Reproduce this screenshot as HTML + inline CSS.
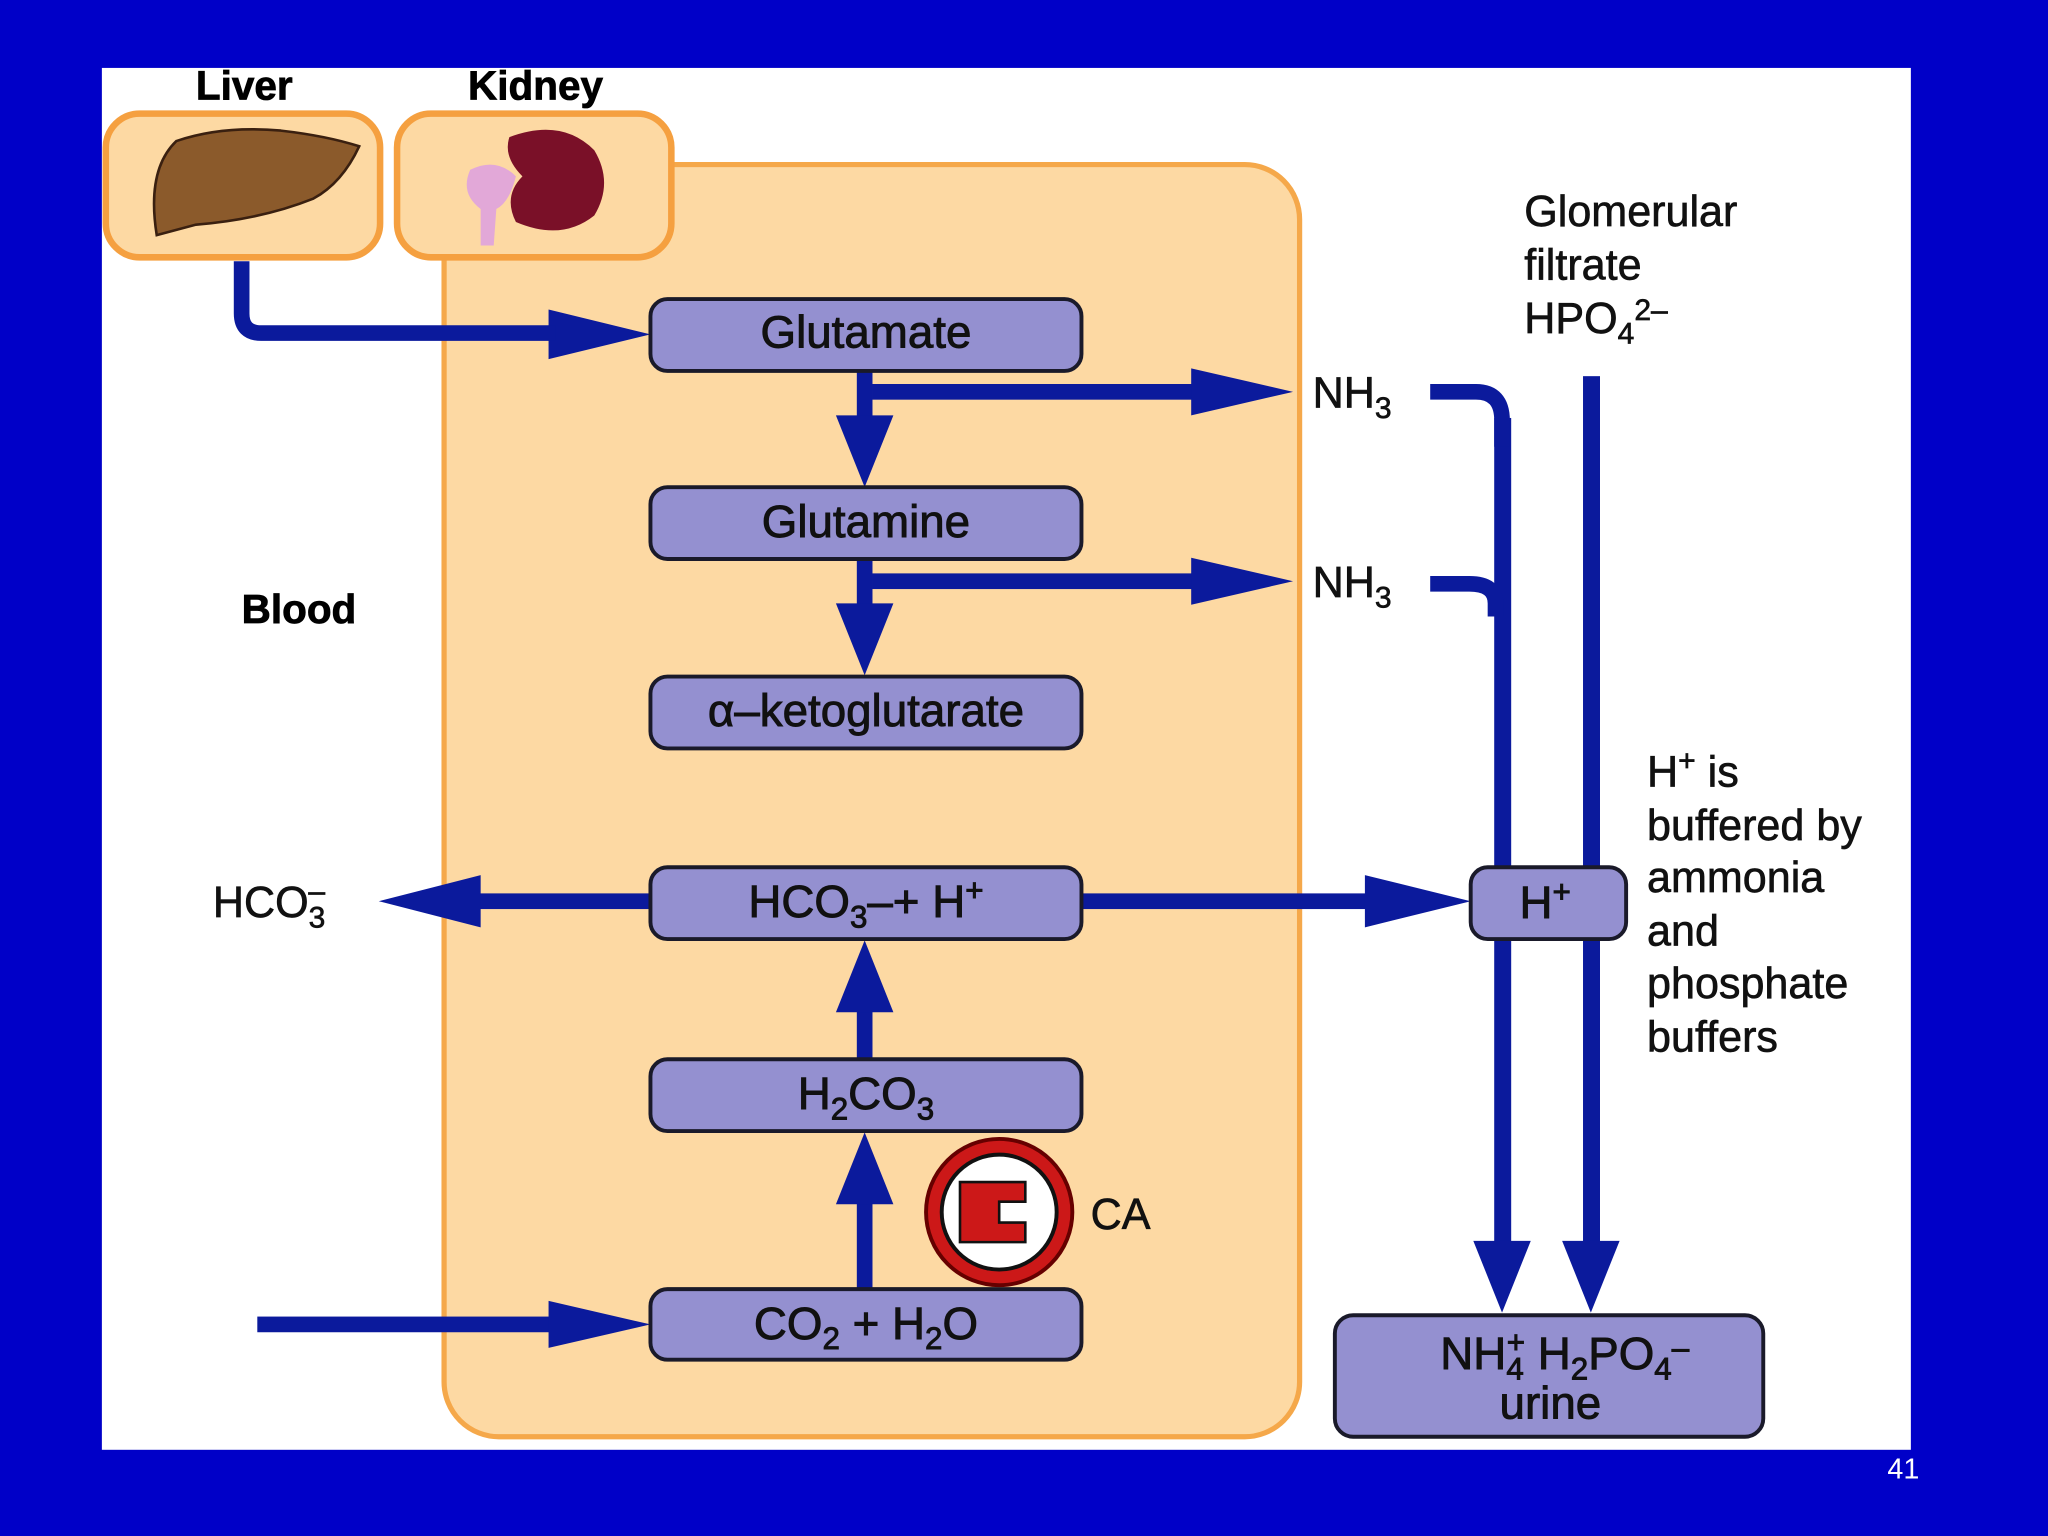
<!DOCTYPE html>
<html><head><meta charset="utf-8"><style>
html,body{margin:0;padding:0;background:#0000c8}
svg{display:block}
text{font-family:"Liberation Sans",sans-serif}
</style></head><body>
<svg width="2048" height="1536" viewBox="0 0 1568 1176" xmlns="http://www.w3.org/2000/svg">
<rect width="1568" height="1176" fill="#0000c8"/>
<rect x="78" y="52" width="1385" height="1058" fill="#fff"/>
<rect x="340" y="126" width="655" height="974" rx="42" fill="#fdd9a3" stroke="#f5a84a" stroke-width="4"/>
<rect x="81" y="87" width="210" height="110" rx="26" fill="#fdd9a3" stroke="#f5a040" stroke-width="5"/>
<rect x="304" y="87" width="210" height="110" rx="26" fill="#fdd9a3" stroke="#f5a040" stroke-width="5"/>
<!-- liver -->
<path d="M120 180 Q112 130 135 108 Q170 96 215 100 Q250 104 275 112 Q262 140 240 152 Q200 168 150 172 Z" fill="#8b5a2b" stroke="#3a2010" stroke-width="2"/>
<!-- kidney -->
<path d="M390 105 Q430 90 455 115 Q470 140 455 165 Q430 185 395 170 Q385 150 400 135 Q385 120 390 105Z" fill="#7a1028"/>
<path d="M360 130 Q380 120 395 135 Q390 155 380 160 L378 188 L368 188 L368 160 Q352 148 360 130Z" fill="#e2a8d8"/>
<g stroke="#000" stroke-width="0.6">
<text x="187" y="76" font-size="31" font-weight="bold" text-anchor="middle">Liver</text>
<text x="410" y="76" font-size="31" font-weight="bold" text-anchor="middle">Kidney</text>
<text x="185" y="477" font-size="31" font-weight="bold">Blood</text>
</g>
<g fill="#0b1a9c" stroke="none">
<rect x="420" y="249" width="10" height="12"/>
<polygon points="420,237 498,256 420,275"/>
<rect x="656" y="284" width="12" height="40"/><polygon points="640,318 684,318 662,373"/>
<rect x="656" y="428" width="12" height="40"/><polygon points="640,462 684,462 662,517"/>
<rect x="668" y="294" width="250" height="12"/><polygon points="912,282 990,300 912,318"/>
<rect x="668" y="439" width="250" height="12"/><polygon points="912,427 990,445 912,463"/>
<rect x="1144" y="320" width="13" height="635"/><polygon points="1128,950 1172,950 1150,1005"/>
<rect x="1212" y="288" width="13" height="667"/><polygon points="1196,950 1240,950 1218,1005"/>
<rect x="360" y="684" width="140" height="12"/><polygon points="368,670 290,690 368,710"/>
<rect x="828" y="684" width="222" height="12"/><polygon points="1045,670 1126,690 1045,710"/>
<rect x="656" y="770" width="12" height="42"/><polygon points="640,775 684,775 662,720"/>
<rect x="656" y="918" width="12" height="70"/><polygon points="640,922 684,922 662,867"/>
<rect x="197" y="1008" width="228" height="12"/><polygon points="420,996 498,1014 420,1032"/>
</g>
<g fill="none" stroke="#0b1a9c" stroke-width="12">
<path d="M185 200 v40 q0 15 15 15 h225"/>
<path d="M1095 300 h35 q20 0 20 22 v20"/>
<path d="M1095 447 h30 q20 0 20 15 v10"/>
</g>
<g fill="#9490d0" stroke="#1a1a2a" stroke-width="3">
<rect x="498" y="229" width="330" height="55" rx="13"/>
<rect x="498" y="373" width="330" height="55" rx="13"/>
<rect x="498" y="518" width="330" height="55" rx="13"/>
<rect x="498" y="664" width="330" height="55" rx="13"/>
<rect x="498" y="811" width="330" height="55" rx="13"/>
<rect x="498" y="987" width="330" height="54" rx="13"/>
<rect x="1126" y="664" width="119" height="55" rx="13"/>
<rect x="1022" y="1007" width="328" height="93" rx="14"/>
</g>
<g font-size="35" text-anchor="middle" fill="#111" stroke="#111" stroke-width="0.7">
<text x="663" y="266">Glutamate</text>
<text x="663" y="411">Glutamine</text>
<text x="663" y="556">α–ketoglutarate</text>
<text x="663" y="702">HCO<tspan font-size="24" dy="8">3</tspan><tspan dy="-8">–+ H</tspan><tspan font-size="24" dy="-12">+</tspan></text>
<text x="663" y="849">H<tspan font-size="24" dy="8">2</tspan><tspan dy="-8">CO</tspan><tspan font-size="24" dy="8">3</tspan></text>
<text x="663" y="1025">CO<tspan font-size="24" dy="8">2</tspan><tspan dy="-8"> + H</tspan><tspan font-size="24" dy="8">2</tspan><tspan dy="-8">O</tspan></text>
<text x="1183" y="703">H<tspan font-size="24" dy="-12">+</tspan></text>
<text x="1198" y="1048">NH<tspan font-size="24" dy="8">4</tspan><tspan font-size="24" dx="-13" dy="-20">+</tspan><tspan dy="12"> H</tspan><tspan font-size="24" dy="8">2</tspan><tspan dy="-8">PO</tspan><tspan font-size="24" dy="8">4</tspan><tspan font-size="24" dy="-16">–</tspan></text>
<text x="1187" y="1086">urine</text>
</g>
<g font-size="33" fill="#111" stroke="#111" stroke-width="0.5">
<text x="1005" y="312">NH<tspan font-size="23" dy="8">3</tspan></text>
<text x="1005" y="457">NH<tspan font-size="23" dy="8">3</tspan></text>
<text x="163" y="702">HCO<tspan font-size="23" dy="8">3</tspan><tspan font-size="23" dx="-13" dy="-20">–</tspan></text>
<text x="835" y="941">CA</text>
<text x="1167" y="173">Glomerular</text>
<text x="1167" y="214">filtrate</text>
<text x="1167" y="255">HPO<tspan font-size="23" dy="8">4</tspan><tspan font-size="23" dy="-18">2–</tspan></text>
<text x="1261" y="602">H<tspan font-size="23" dy="-12">+</tspan><tspan dy="12"> is</tspan></text>
<text x="1261" y="643">buffered by</text>
<text x="1261" y="683">ammonia</text>
<text x="1261" y="724">and</text>
<text x="1261" y="764">phosphate</text>
<text x="1261" y="805">buffers</text>
</g>
<circle cx="765" cy="928" r="56" fill="#cc1818" stroke="#600" stroke-width="3"/>
<circle cx="765" cy="928" r="44" fill="#fff" stroke="#111" stroke-width="3"/>
<path d="M735 905 h50 v15 h-20 v16 h20 v15 h-50z" fill="#cc1818" stroke="#111" stroke-width="2"/>
<text x="1445" y="1132" font-size="22" fill="#fff">41</text>
</svg>
</body></html>
